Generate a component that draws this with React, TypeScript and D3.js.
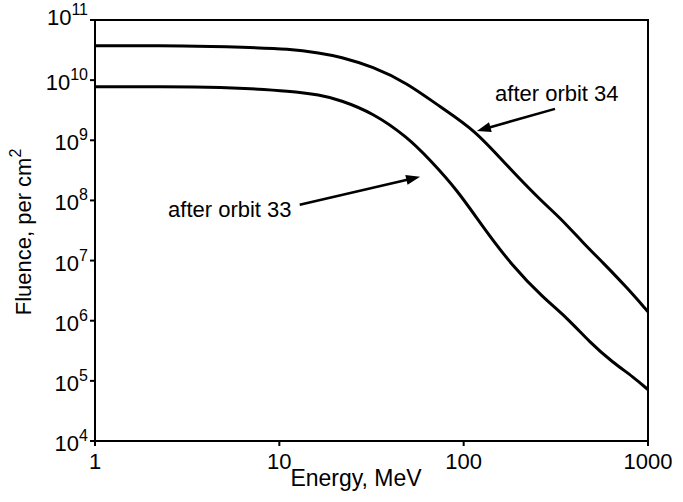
import React from "react";
import * as d3 from "d3";

// energy (MeV) / fluence (per cm^2)
const energyOrbit34 = [1, 3.28, 6.35, 11.4, 16.6, 21.3, 32.2, 49.3, 74.5, 115, 172, 260, 334, 444, 571, 770, 1000];
const fluenceOrbit34 = [3.74e10, 3.74e10, 3.52e10, 3.3e10, 2.83e10, 2.46e10, 1.68e10, 8.98e9, 3.59e9, 1.49e9, 3.76e8, 1.02e8, 5.14e7, 1.98e7, 9.18e6, 3.53e6, 1.41e6];

const energyOrbit33 = [1, 4.05, 6.35, 11.4, 16.6, 21.3, 32.2, 49.3, 65.7, 92.1, 127, 185, 270, 364, 485, 647, 830, 1000];
const fluenceOrbit33 = [7.8e9, 7.8e9, 7.33e9, 6.62e9, 5.68e9, 4.69e9, 2.85e9, 1.14e9, 4.72e8, 1.5e8, 3.64e7, 7.89e6, 2.41e6, 1.12e6, 4.32e5, 2.0e5, 1.17e5, 7.14e4];

const xTicks = [1, 10, 100, 1000];
const yExponents = [4, 5, 6, 7, 8, 9, 10, 11];

// annotations: label anchor, arrow start, arrow tip (energy, fluence)
const labels = ["after orbit 34", "after orbit 33"];
const labelAt = [[148, 4.52e9], [2.49, 5.35e7]];
const arrowFrom = [[313, 3.33e9], [12.9, 8.45e7]];
const arrowTo = [[118, 1.43e9], [58, 2.47e8]];

const W = 683, H = 502;
const m = { top: 20, right: 35, bottom: 61, left: 95 };
const font = "Arial, 'Liberation Sans', sans-serif";

export default function App() {
  const x = d3.scaleLog().domain([1, 1000]).range([m.left, W - m.right]);
  const y = d3.scaleLog().domain([1e4, 1e11]).range([H - m.bottom, m.top]);
  const line = d3.line<[number, number]>()
    .x(d => x(d[0]))
    .y(d => y(d[1]))
    .curve(d3.curveBasis);

  const s34 = energyOrbit34.map((e, i) => [e, fluenceOrbit34[i]] as [number, number]);
  const s33 = energyOrbit33.map((e, i) => [e, fluenceOrbit33[i]] as [number, number]);

  const arrowHead = (from: number[], to: number[]) => {
    const x0 = x(from[0]), y0 = y(from[1]), x1 = x(to[0]), y1 = y(to[1]);
    const a = Math.atan2(y1 - y0, x1 - x0);
    const len = 14, half = 5;
    const bx = x1 - len * Math.cos(a), by = y1 - len * Math.sin(a);
    const px = -Math.sin(a) * half, py = Math.cos(a) * half;
    return {
      shaft: [x0, y0, bx + 2 * Math.cos(a), by + 2 * Math.sin(a)],
      head: `${x1},${y1} ${bx + px},${by + py} ${bx - px},${by - py}`,
    };
  };

  const bottom = H - m.bottom;
  return (
    <svg width={W} height={H} style={{ position: "absolute", left: 0, top: 0, background: "#fff" }}
      fontFamily={font}>
      <rect x={m.left} y={m.top} width={W - m.left - m.right} height={bottom - m.top}
        fill="none" stroke="#000" strokeWidth={2} />
      {xTicks.map(t => (
        <g key={t}>
          <line x1={x(t)} x2={x(t)} y1={bottom} y2={bottom + 5} stroke="#000" strokeWidth={2} />
          <text x={x(t)} y={bottom + 28} textAnchor="middle" fontSize={22}>{t}</text>
        </g>
      ))}
      {yExponents.map(p => (
        <g key={p}>
          <line x1={m.left - 5} x2={m.left} y1={y(10 ** p)} y2={y(10 ** p)} stroke="#000" strokeWidth={2} />
          <text x={m.left - 7} y={y(10 ** p) + (p === 11 ? 5 : 10)} textAnchor="end" fontSize={22}>
            10<tspan fontSize={16} dy={-10}>{p}</tspan>
          </text>
        </g>
      ))}
      <path d={line(s34) || ""} fill="none" stroke="#000" strokeWidth={3} />
      <path d={line(s33) || ""} fill="none" stroke="#000" strokeWidth={3} />
      {labels.map((l, i) => {
        const ah = arrowHead(arrowFrom[i], arrowTo[i]);
        return (
          <g key={l}>
            <text x={x(labelAt[i][0])} y={y(labelAt[i][1])} fontSize={22}>{l}</text>
            <line x1={ah.shaft[0]} y1={ah.shaft[1]} x2={ah.shaft[2]} y2={ah.shaft[3]} stroke="#000" strokeWidth={2.5} />
            <polygon points={ah.head} fill="#000" />
          </g>
        );
      })}
      <text x={356} y={486} textAnchor="middle" fontSize={23}>Energy, MeV</text>
      <text transform="translate(31,232) rotate(-90)" textAnchor="middle" fontSize={22}>
        Fluence, per cm<tspan fontSize={16} dy={-10}>2</tspan>
      </text>
    </svg>
  );
}
